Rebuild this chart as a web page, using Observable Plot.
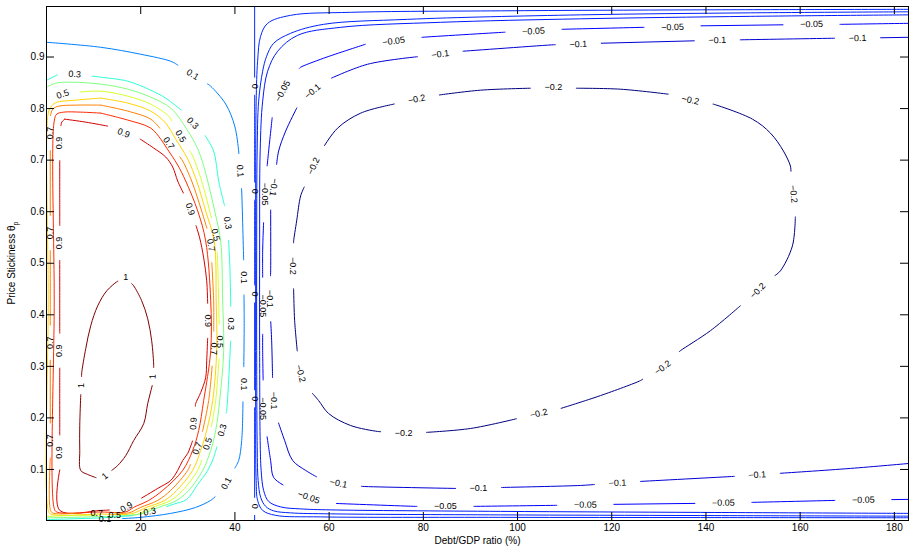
<!DOCTYPE html>
<html>
<head>
<meta charset="utf-8">
<script src="https://cdn.jsdelivr.net/npm/d3@7"></script>
<script src="https://cdn.jsdelivr.net/npm/@observablehq/plot@0.6"></script>
<style>
  body { margin: 0; background: #fff; }
  svg { display: block; }
</style>
</head>
<body>
<div id="chart"></div>
<script>
// ---------- data (Debt/GDP ratio %, price stickiness) ----------
const xTicks = [20, 40, 60, 80, 100, 120, 140, 160, 180];
const yTicks = [0.1, 0.2, 0.3, 0.4, 0.5, 0.6, 0.7, 0.8, 0.9];
const xDomain = [0, 183];
const yDomain = [0.001, 0.998];
const xLabel = "Debt/GDP ratio (%)";
const yLabel = "Price Stickiness θ";
const yLabelSub = "p";

// contour polylines, one array per level
const c_100 = [[16.82,0.4737],[14.91,0.4640],[12.79,0.4465],[10.88,0.4175],[9.39,0.3788],[8.33,0.3343],[7.48,0.2878],[7.27,0.2433],[7.06,0.1852],[7.06,0.1368],[7.27,0.0981],[8.75,0.0903],[11.51,0.0806],[15.12,0.1077],[16.82,0.1268],[18.51,0.1561],[20.64,0.1890],[21.49,0.2278],[22.55,0.2665],[22.76,0.3013],[22.33,0.3497],[21.49,0.3923],[20.21,0.4272],[18.51,0.4562]];
const c_090 = [[3.87,0.7795],[8.33,0.7737],[13.0,0.7660],[16.39,0.7563],[19.58,0.7427],[22.76,0.7234],[25.31,0.7060],[26.79,0.6866],[27.85,0.6595],[29.55,0.6266],[31.25,0.5879],[32.52,0.5491],[33.37,0.5104],[34.01,0.4659],[34.22,0.4214],[34.22,0.3556],[34.01,0.3110],[33.79,0.2781],[32.73,0.2491],[31.67,0.2278],[31.25,0.2007],[31.03,0.1561],[29.97,0.1310],[28.91,0.1174],[27.85,0.0981],[26.37,0.0787],[23.61,0.0632],[19.36,0.0400],[16.39,0.0226],[11.51,0.0206],[2.81,0.0206],[2.81,0.2333],[2.81,0.4269],[2.81,0.6209],[2.81,0.7563],[3.24,0.7737]];
const c_080 = [[11.51,0.7912],[17.24,0.7777],[22.12,0.7622],[24.24,0.7409],[25.52,0.7234],[27.85,0.6905],[29.55,0.6595],[32.10,0.6014],[33.79,0.5433],[34.86,0.4272],[34.86,0.3304],[33.37,0.2336],[32.31,0.1756],[31.03,0.1369],[28.91,0.0981],[24.67,0.0594],[21.70,0.0400],[18.51,0.0265],[16.82,0.0177],[11.51,0.0175],[2.18,0.0175],[1.64,0.0245],[1.64,0.4272],[1.64,0.7757],[2.18,0.7892],[3.66,0.7931],[7.27,0.7931]];
const c_070 = [[11.51,0.8067],[17.24,0.7951],[22.12,0.7796],[24.67,0.7564],[26.15,0.7351],[28.91,0.6983],[30.82,0.6595],[32.94,0.6014],[34.86,0.5433],[35.49,0.4272],[35.49,0.3304],[34.43,0.2336],[33.16,0.1756],[31.88,0.1369],[29.98,0.0981],[26.37,0.0594],[23.61,0.0400],[20.00,0.0265],[17.45,0.0158],[11.51,0.0156],[1.33,0.0156],[0.80,0.0226],[0.80,0.4272],[0.80,0.7854],[1.33,0.7989],[2.60,0.8047],[6.21,0.8067]];
const c_060 = [[11.51,0.8203],[17.24,0.8106],[22.12,0.7951],[25.31,0.7718],[27.43,0.7408],[29.98,0.7021],[31.88,0.6595],[33.79,0.6014],[35.60,0.5433],[36.02,0.4272],[36.13,0.3304],[35.28,0.2336],[34.01,0.1756],[32.73,0.1369],[31.03,0.0981],[27.64,0.0594],[25.10,0.0400],[21.28,0.0265],[17.88,0.0138],[11.51,0.0136],[0.90,0.0136],[0.37,0.0206],[0.37,0.4272],[0.37,0.7912],[0.90,0.8028],[1.96,0.8115],[6.21,0.8164]];
const c_050 = [[0.05,0.8125],[1.96,0.8241],[6.21,0.8319],[11.51,0.8338],[17.24,0.8241],[22.12,0.8086],[25.94,0.7854],[28.49,0.7486],[31.03,0.7079],[32.94,0.6595],[34.64,0.6014],[36.23,0.5433],[36.55,0.4272],[36.76,0.3304],[35.92,0.2336],[34.86,0.1756],[33.79,0.1369],[32.10,0.0981],[28.91,0.0594],[26.37,0.0400],[22.55,0.0265],[18.94,0.0119],[11.51,0.0113],[5.15,0.0106],[0.05,0.0090]];
const c_040 = [[0.05,0.8416],[1.96,0.8493],[5.15,0.8512],[11.51,0.8474],[17.24,0.8377],[22.12,0.8222],[26.37,0.8009],[29.76,0.7602],[32.31,0.7176],[34.22,0.6595],[35.70,0.6014],[36.97,0.5433],[37.40,0.4272],[37.61,0.3304],[36.76,0.2336],[35.92,0.1756],[34.86,0.1369],[33.16,0.0981],[30.19,0.0594],[27.64,0.0400],[23.82,0.0265],[20.00,0.0138],[15.76,0.0100],[9.39,0.0080],[0.05,0.0061]];
const c_030 = [[0.05,0.8551],[2.60,0.8667],[5.99,0.8667],[9.81,0.8628],[11.51,0.8609],[17.24,0.8531],[22.12,0.8357],[25.31,0.8202],[28.91,0.7950],[31.03,0.7717],[33.37,0.7524],[35.49,0.7176],[36.55,0.6595],[37.82,0.6111],[38.46,0.5782],[38.88,0.5046],[39.10,0.4272],[39.10,0.3498],[38.67,0.2724],[38.25,0.2143],[37.40,0.1794],[36.55,0.1562],[35.49,0.1233],[34.22,0.0981],[32.10,0.0710],[29.76,0.0419],[27.21,0.0332],[24.88,0.0264],[22.12,0.0187],[18.94,0.0109],[11.51,0.0061],[5.15,0.0042],[0.05,0.0026]];
const c_010 = [[0.05,0.9286],[11.51,0.9189],[20.0,0.9054],[26.37,0.8918],[31.03,0.8686],[34.86,0.8434],[38.05,0.8086],[39.96,0.7660],[40.80,0.7176],[41.44,0.6402],[41.86,0.5047],[41.97,0.3885],[41.86,0.2724],[41.44,0.1561],[40.80,0.1174],[39.53,0.0942],[37.41,0.0593],[34.86,0.0400],[31.67,0.0264],[26.37,0.0148],[20.0,0.0071],[13.63,0.0032],[9.39,0.0013]];
const c_000 = [[44.19,0.998],[44.19,0.75],[44.19,0.5],[44.19,0.25],[44.19,0.001]];
const c_m005 = [[183.18,0.9925],[138.83,0.9915],[96.39,0.9896],[64.56,0.9867],[51.83,0.9809],[46.95,0.9654],[45.45,0.9402],[44.82,0.8918],[44.51,0.8143],[44.40,0.6208],[44.40,0.4270],[44.40,0.2333],[44.51,0.0787],[44.82,0.0400],[45.89,0.0206],[48.65,0.0110],[58.20,0.0080],[96.39,0.0071],[138.83,0.0067],[183.18,0.0063]];
const c_m010 = [[183.18,0.9877],[149.44,0.9857],[113.37,0.9818],[76.66,0.9731],[58.83,0.9634],[51.83,0.9460],[48.22,0.9266],[46.73,0.9015],[45.89,0.8725],[45.04,0.8143],[44.72,0.7176],[44.62,0.5240],[44.62,0.3304],[44.72,0.1561],[44.93,0.0787],[45.47,0.0458],[46.53,0.0284],[48.22,0.0197],[51.83,0.0158],[60.32,0.0139],[96.39,0.0119],[138.83,0.0106],[183.18,0.0094]];
const c_m020 = [[183.18,0.9818],[149.44,0.9789],[113.37,0.9741],[83.66,0.9673],[62.44,0.9576],[53.32,0.9421],[49.07,0.9112],[46.95,0.8725],[45.89,0.8143],[45.36,0.7176],[45.25,0.5240],[45.25,0.3304],[45.36,0.1561],[45.57,0.0981],[46.10,0.0593],[47.16,0.0380],[49.71,0.0274],[53.95,0.0235],[60.32,0.0216],[96.39,0.0187],[138.83,0.0167],[183.18,0.0148]];
const c_m050 = [[183.18,0.9654],[168.54,0.9634],[156.44,0.9625],[138.83,0.9605],[126.74,0.9576],[109.55,0.9538],[97.03,0.9480],[79.84,0.9383],[67.74,0.9248],[58.83,0.8977],[53.95,0.8802],[52.47,0.8686],[50.13,0.8337],[48.01,0.7911],[47.16,0.7176],[46.31,0.6402],[45.89,0.5240],[45.89,0.3304],[46.10,0.2142],[46.73,0.1697],[47.58,0.1174],[48.22,0.0845],[50.34,0.0691],[55.65,0.0458],[60.96,0.0342],[78.36,0.0284],[90.66,0.0284],[108.06,0.0304],[120.16,0.0323],[137.77,0.0342],[149.87,0.0362],[167.48,0.0400],[183.18,0.0420]];
const c_m100 = [[183.18,0.9383],[177.03,0.9373],[167.05,0.9364],[147.32,0.9334],[137.77,0.9315],[117.61,0.9267],[107.64,0.9238],[88.33,0.9112],[79.42,0.9015],[68.17,0.8860],[59.89,0.8570],[56.50,0.8337],[53.53,0.8086],[50.77,0.7563],[49.28,0.7176],[48.22,0.6537],[47.59,0.6208],[47.59,0.4853],[47.37,0.4311],[47.80,0.3497],[48.01,0.2724],[48.22,0.2337],[48.86,0.2007],[50.56,0.1561],[52.26,0.1174],[55.02,0.0981],[57.56,0.0845],[62.02,0.0729],[67.11,0.0671],[86.84,0.0632],[96.82,0.0651],[113.37,0.0690],[126.10,0.0768],[145.83,0.0865],[155.38,0.0923],[170.66,0.1020],[183.18,0.1117]];
const c_m200 = [[58.62,0.7234],[61.80,0.7621],[66.68,0.7911],[73.69,0.8086],[78.36,0.8182],[83.03,0.8260],[92.15,0.8357],[102.76,0.8395],[107.64,0.8415],[112.31,0.8395],[121.86,0.8376],[132.04,0.8279],[136.71,0.8163],[141.59,0.8086],[149.87,0.7795],[153.69,0.7524],[156.45,0.7176],[157.93,0.6886],[158.57,0.6344],[159.0,0.5918],[158.36,0.5337],[155.81,0.4853],[150.93,0.4466],[147.32,0.4176],[140.96,0.3692],[134.59,0.3305],[130.77,0.2995],[126.10,0.2724],[117.61,0.2433],[109.13,0.2182],[104.46,0.2085],[100.0,0.1988],[90.03,0.1795],[80.48,0.1718],[75.81,0.1698],[70.30,0.1737],[64.56,0.1853],[59.89,0.2085],[57.77,0.2337],[55.02,0.2627],[53.95,0.2859],[53.32,0.3208],[52.68,0.3885],[52.47,0.4466],[52.26,0.4950],[52.47,0.5434],[53.11,0.5821],[53.95,0.6305],[56.07,0.6789]];

const contourLevels = [1, 0.9, 0.8, 0.7, 0.6, 0.5, 0.4, 0.3, 0.1, 0, -0.005, -0.01, -0.02, -0.05, -0.1, -0.2];
const contourLines  = [c_100, c_090, c_080, c_070, c_060, c_050, c_040, c_030, c_010, c_000, c_m005, c_m010, c_m020, c_m050, c_m100, c_m200];
const contourClosed = [true, true, true, true, true, false, false, false, false, false, false, false, false, false, false, true];

// contour labels: [x, y, level, angle]
const contourLabels = [
  [5.99,0.8667,0.3,3],[3.45,0.8280,0.5,-20],[0.80,0.7524,0.7,-90],[2.71,0.7330,0.9,-90],
  [16.39,0.7524,0.9,21],[25.94,0.7330,0.7,56],[28.49,0.7466,0.5,59],[31.03,0.7717,0.3,46],
  [31.03,0.866,0.1,32],[41.1,0.6789,0.1,85],[41.9,0.4725,0.1,90],[41.9,0.2653,0.1,90],[38.2,0.073,0.1,-61],
  [38.46,0.5782,0.3,80],[35.9,0.555,0.5,76],[34.9,0.535,0.7,80],[30.5,0.605,0.9,71],
  [34.22,0.3885,0.9,90],[35.49,0.3343,0.7,90],[36.76,0.3478,0.5,90],[39.10,0.3826,0.3,90],
  [31.2,0.1890,0.9,-87],[32.0,0.141,0.7,-69],[34.2,0.150,0.5,-72],[37.3,0.176,0.3,-73],
  [2.71,0.5394,0.9,-90],[0.80,0.5588,0.7,-90],[2.71,0.3304,0.9,-90],[0.80,0.3459,0.7,-90],
  [2.71,0.1329,0.9,-90],[0.80,0.1561,0.7,-90],
  [17.0,0.027,0.9,-30],[10.66,0.0145,0.7,0],[14.48,0.0112,0.5,0],[12.4,0.004,0.1,0],[21.9,0.018,0.3,-10],
  [16.82,0.4737,1,0],[7.27,0.2627,1,-90],[22.55,0.2802,1,-88],[12.4,0.087,1,-39],
  [44.19,0.8434,0,90],[44.19,0.6398,0,90],[44.19,0.4404,0,90],[44.19,0.2371,0,90],[44.19,0.0284,0,90],
  [46.3,0.634,-0.05,90],[45.89,0.4175,-0.05,90],[46.0,0.2182,-0.05,90],
  [48.2,0.6475,-0.1,98],[47.4,0.4311,-0.1,90],[48.2,0.2337,-0.1,90],
  [50.13,0.8337,-0.05,-62],[56.50,0.8337,-0.1,-40],
  [73.7,0.9307,-0.05,-7],[83.6,0.9055,-0.1,-7],[78.6,0.8182,-0.2,-12],
  [103.4,0.9501,-0.05,-3],[112.9,0.9249,-0.1,-2],[107.6,0.8415,-0.2,0],
  [132.9,0.9578,-0.05,-2],[142.4,0.9327,-0.1,-1.5],[136.7,0.8163,-0.2,12],
  [162.4,0.9637,-0.05,-1],[172.2,0.9365,-0.1,-1],
  [158.6,0.6343,-0.2,84],[151.0,0.4466,-0.2,-45],[130.8,0.2975,-0.2,-37],[104.5,0.2085,-0.2,-13],
  [75.8,0.1698,-0.2,0],[53.95,0.2859,-0.2,75],[52.26,0.4950,-0.2,90],[56.7,0.6886,-0.2,-65],
  [62.0,0.0729,-0.1,11],[91.7,0.0630,-0.1,0],[121.2,0.0738,-0.1,-2.5],[150.9,0.0896,-0.1,-3.5],
  [55.65,0.0458,-0.05,20],[84.7,0.0284,-0.05,0],[114.4,0.0314,-0.05,-0.5],[143.7,0.0352,-0.05,-0.7],[173.4,0.0408,-0.05,-1]
];

// ---------- layout ----------
const W = 909, H = 552, ML = 46, MR = 1, MT = 6, MB = 32;
const FONT = "'Liberation Sans', Arial, Helvetica, sans-serif";

const fmt = v => v < 0 ? "\u2212" + String(Math.abs(v)) : String(v);

// MATLAB "jet" colormap
const clamp01 = v => Math.max(0, Math.min(1, v));
const jet = t => {
  const r = clamp01(1.5 - Math.abs(4 * t - 3));
  const g = clamp01(1.5 - Math.abs(4 * t - 2));
  const b = clamp01(1.5 - Math.abs(4 * t - 1));
  return `rgb(${Math.round(r * 255)},${Math.round(g * 255)},${Math.round(b * 255)})`;
};

// scales identical to the chart's, used to cut the label gaps in pixel space
const xs = Plot.scale({x: {domain: xDomain, range: [ML, W - MR]}});
const ys = Plot.scale({y: {domain: yDomain, range: [H - MB, MT]}});

function clipPolyline(pts, circles) {
  const pieces = [];
  let cur = [];
  const inside = p => circles.some(c => (p[0] - c.x) ** 2 + (p[1] - c.y) ** 2 < c.r * c.r);
  for (let i = 0; i < pts.length - 1; i++) {
    const a = pts[i], b = pts[i + 1];
    const dx = b[0] - a[0], dy = b[1] - a[1];
    const ts = [0, 1];
    for (const c of circles) {
      const fx = a[0] - c.x, fy = a[1] - c.y;
      const A = dx * dx + dy * dy, B = 2 * (fx * dx + fy * dy), C = fx * fx + fy * fy - c.r * c.r;
      const disc = B * B - 4 * A * C;
      if (A > 0 && disc > 0) {
        const s = Math.sqrt(disc);
        for (const t of [(-B - s) / (2 * A), (-B + s) / (2 * A)]) if (t > 0 && t < 1) ts.push(t);
      }
    }
    ts.sort((u, v) => u - v);
    for (let k = 0; k < ts.length - 1; k++) {
      const t0 = ts[k], t1 = ts[k + 1];
      if (t1 - t0 < 1e-9) continue;
      const p0 = [a[0] + dx * t0, a[1] + dy * t0];
      const p1 = [a[0] + dx * t1, a[1] + dy * t1];
      const tm = (t0 + t1) / 2;
      const pm = [a[0] + dx * tm, a[1] + dy * tm];
      if (inside(pm)) {
        if (cur.length > 1) pieces.push(cur);
        cur = [];
      } else {
        if (cur.length === 0) cur.push(p0);
        cur.push(p1);
      }
    }
  }
  if (cur.length > 1) pieces.push(cur);
  return pieces;
}

const gapRadius = s => s.length <= 1 ? 9 : 5.5 * s.length + 1;

const rows = [];
let pid = 0;
contourLines.forEach((line, i) => {
  const level = contourLevels[i];
  const pts = contourClosed[i] ? [...line, line[0]] : line;
  const px = pts.map(([x, y]) => [xs.apply(x), ys.apply(y)]);
  const circles = contourLabels
    .filter(l => Math.abs(l[2] - level) < 1e-9)
    .map(l => ({x: xs.apply(l[0]), y: ys.apply(l[1]), r: gapRadius(fmt(l[2]))}));
  for (const piece of clipPolyline(px, circles)) {
    pid++;
    for (const p of piece) rows.push({id: pid, level, x: xs.invert(p[0]), y: ys.invert(p[1])});
  }
});

const frameW = W - ML - MR, frameH = H - MT - MB, TICK = 8;

const chart = Plot.plot({
  width: W, height: H,
  marginLeft: ML, marginRight: MR, marginTop: MT, marginBottom: MB,
  x: {domain: xDomain},
  y: {domain: yDomain},
  color: {type: "linear", domain: [-0.2, 1], interpolate: jet},
  style: {fontFamily: FONT, fontSize: "10px", background: "white", color: "black", overflow: "visible"},
  marks: [
    Plot.line(rows, {x: "x", y: "y", z: "id", stroke: "level", strokeWidth: 1, curve: "catmull-rom"}),
    Plot.text(contourLabels, {
      x: d => d[0], y: d => d[1], text: d => fmt(d[2]), rotate: d => d[3],
      fontSize: 9, fill: "black", fontFamily: FONT
    }),
    Plot.frame({stroke: "black", strokeWidth: 1}),
    Plot.tickX(xTicks, {x: d => d, stroke: "black", insetTop: frameH - TICK}),
    Plot.tickX(xTicks, {x: d => d, stroke: "black", insetBottom: frameH - TICK}),
    Plot.tickY(yTicks, {y: d => d, stroke: "black", insetRight: frameW - TICK}),
    Plot.tickY(yTicks, {y: d => d, stroke: "black", insetLeft: frameW - TICK}),
    Plot.axisX({ticks: xTicks, tickSize: 0, tickPadding: 3, fontSize: 10, label: null}),
    Plot.axisY({ticks: yTicks, tickSize: 0, tickPadding: 2, fontSize: 10, label: null}),
    Plot.text([xLabel], {text: d => d, frameAnchor: "bottom", dy: 23, fontSize: 10, fill: "black"})
  ]
});

const svg = d3.select(chart);
const yl = svg.append("text")
  .attr("transform", `translate(15,${MT + frameH / 2}) rotate(-90)`)
  .attr("text-anchor", "middle")
  .attr("font-size", 10)
  .attr("font-family", FONT)
  .attr("fill", "black");
yl.append("tspan").text(yLabel);
yl.append("tspan").attr("dy", 3).attr("font-size", 7).text(yLabelSub);

document.getElementById("chart").appendChild(chart);
</script>
</body>
</html>
